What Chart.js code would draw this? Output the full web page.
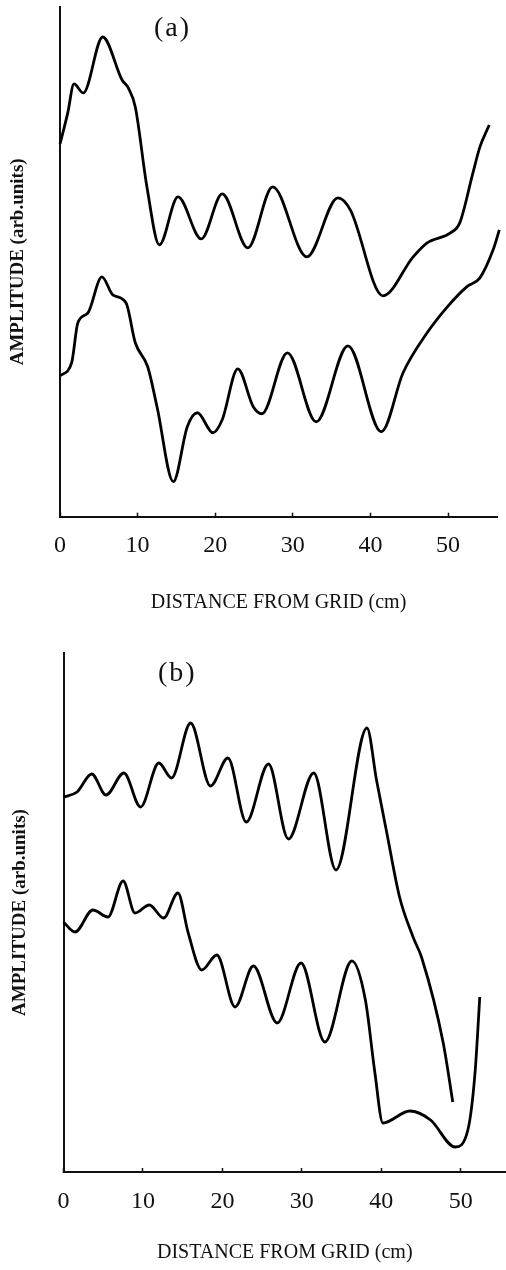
<!DOCTYPE html>
<html>
<head>
<meta charset="utf-8">
<script src="https://cdn.jsdelivr.net/npm/chart.js@4.4.1/dist/chart.umd.min.js"></script>
<style>
  body { margin: 0; background: #fff; }
  #wrap { position: relative; width: 506px; height: 1270px; }
  canvas { position: absolute; left: 0; }
  .tag { position: absolute; font: 28px "Liberation Serif", serif; line-height: 1; letter-spacing: 2px; color: #111; }
</style>
</head>
<body>
<div id="wrap">
  <canvas id="chart-a" width="506" height="635" style="top:0"></canvas>
  <canvas id="chart-b" width="506" height="635" style="top:635px"></canvas>
  <div class="tag" style="left:154px;top:13px">(a)</div>
  <div class="tag" style="left:158px;top:658px">(b)</div>
</div>
<script>
// tick labels on the distance axis
var xTicks = [0, 10, 20, 30, 40, 50];

// (a) upper trace
var distA1 = [0, 1.0, 1.8, 3.0, 5.5, 8.0, 8.8, 9.7, 11.2, 12.8, 15.2, 18.2, 20.9, 24.2, 27.4, 31.8, 35.8, 37.4, 41.6, 45.5, 47.3, 50.3, 51.5, 53.2, 54.1, 55.3];
var ampA1 = [37.3, 40.4, 43.3, 42.4, 48.0, 43.7, 42.9, 41.0, 33.0, 27.2, 32.0, 27.8, 32.3, 26.9, 33.0, 26.0, 31.9, 30.7, 22.1, 26.0, 27.4, 28.4, 29.4, 34.4, 37.0, 39.2];

// (a) lower trace
var distA2 = [0, 1.5, 2.3, 3.6, 5.4, 6.8, 8.5, 9.7, 11.3, 12.5, 14.6, 16.4, 17.7, 19.7, 20.9, 22.9, 24.9, 26.0, 29.3, 33.0, 37.1, 41.4, 44.2, 47.3, 49.9, 52.4, 54.1, 55.8, 56.6];
var ampA2 = [14.1, 15.4, 19.4, 20.4, 24.0, 22.2, 21.4, 17.4, 15.0, 11.0, 3.5, 9.0, 10.4, 8.4, 9.7, 14.8, 11.0, 10.3, 16.4, 9.5, 17.1, 8.5, 14.4, 18.4, 21.0, 23.0, 23.9, 26.7, 28.7];

// (b) upper trace
var distB1 = [0, 1.7, 3.55, 5.35, 7.6, 9.7, 12.0, 13.6, 16.0, 18.5, 20.7, 23.0, 25.8, 28.3, 31.5, 34.3, 38.2, 39.4, 40.7, 42.3, 44.0, 45.1, 47.8, 49.0];
var ampB1 = [37.5, 38.0, 39.8, 37.7, 39.9, 36.5, 40.9, 39.4, 44.9, 38.6, 41.4, 35.0, 40.8, 33.3, 39.9, 30.2, 44.4, 39.2, 33.9, 27.5, 23.5, 21.4, 12.9, 7.0];

// (b) lower trace
var distB2 = [0, 1.45, 3.7, 5.6, 7.5, 9.0, 10.8, 12.6, 14.4, 15.7, 17.4, 19.3, 21.6, 23.9, 26.9, 29.9, 32.9, 36.3, 38.0, 39.2, 40.2, 43.6, 46.2, 49.3, 50.9, 51.8, 52.4];
var ampB2 = [25.0, 24.0, 26.2, 25.5, 29.1, 25.9, 26.7, 25.4, 27.9, 23.9, 20.2, 21.7, 16.5, 20.6, 14.9, 20.9, 13.0, 21.1, 17.2, 9.9, 4.9, 6.1, 5.2, 2.5, 4.2, 9.9, 17.5];

function toPoints(xs, ys) {
  return xs.map(function (x, i) { return { x: x, y: ys[i] }; });
}

function trace(xs, ys) {
  return {
    data: toPoints(xs, ys),
    showLine: true,
    borderColor: "#000",
    borderWidth: 2.8,
    pointRadius: 0,
    tension: 0.4,
    cubicInterpolationMode: "monotone",
    clip: 10,
  };
}

function panel(id, sets, p) {
  var ctx = document.getElementById(id).getContext("2d");
  return new Chart(ctx, {
    type: "scatter",
    data: { datasets: sets },
    options: {
      responsive: false,
      animation: false,
      layout: { padding: { left: 0, top: p.top, right: p.right, bottom: 0 } },
      plugins: { legend: { display: false }, tooltip: { enabled: false } },
      scales: {
        x: {
          type: "linear",
          min: 0,
          max: p.xMax,
          afterFit: function (scale) { scale.height = p.xHeight; },
          afterBuildTicks: function (scale) {
            scale.ticks = xTicks.map(function (v) { return { value: v }; });
          },
          border: { display: true, color: "#111", width: 2 },
          grid: { display: true, drawOnChartArea: false, tickLength: -4, tickWidth: 1.5, tickColor: "#111" },
          ticks: {
            color: "#111",
            padding: 19,
            maxRotation: 0,
            font: { family: "'Liberation Serif', serif", size: 24 },
          },
          title: {
            display: true,
            text: "DISTANCE FROM GRID (cm)",
            color: "#111",
            padding: { top: 0, bottom: p.titleBottom },
            font: { family: "'Liberation Serif', serif", size: 20 },
          },
        },
        y: {
          min: 0,
          max: p.yMax,
          afterFit: function (scale) { scale.width = p.yWidth; },
          border: { display: true, color: "#111", width: 2 },
          grid: { display: false },
          ticks: { display: false },
          title: {
            display: true,
            text: "AMPLITUDE (arb.units)",
            color: "#111",
            padding: { top: p.yTitlePad, bottom: 0 },
            font: { family: "'Liberation Serif', serif", size: 19, weight: "bold" },
          },
        },
      },
    },
  });
}

var chartA = panel("chart-a", [trace(distA1, ampA1), trace(distA2, ampA2)], {
  top: 7, right: 9, xMax: 56.3, yMax: 51, xHeight: 118.3, yWidth: 60, titleBottom: 20, yTitlePad: 7,
});

var chartB = panel("chart-b", [trace(distB1, ampB1), trace(distB2, ampB2)], {
  top: 18, right: 0, xMax: 55.7, yMax: 51.9, xHeight: 98, yWidth: 63.5, titleBottom: 5, yTitlePad: 9,
});
</script>
</body>
</html>
